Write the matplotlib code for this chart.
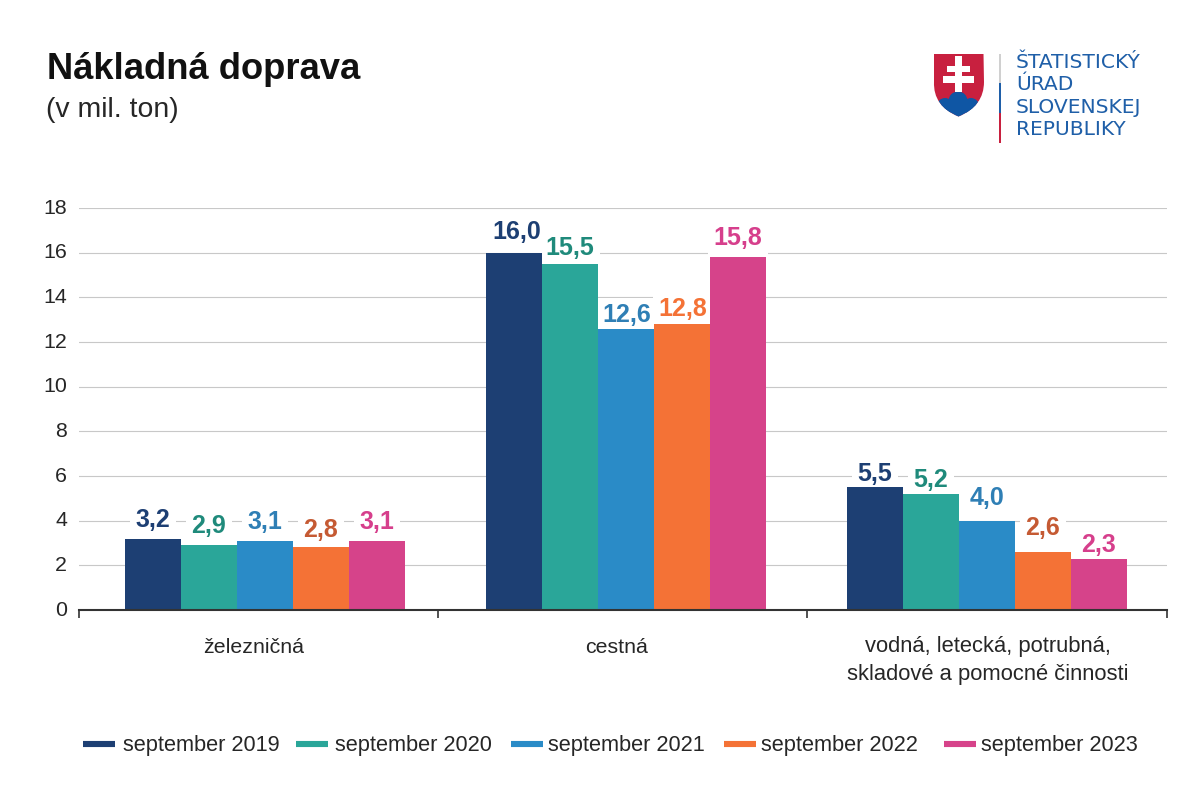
import matplotlib
matplotlib.use("Agg")
import matplotlib.pyplot as plt
import numpy as np
from matplotlib.lines import Line2D
from matplotlib.patches import PathPatch, Circle, Rectangle
from matplotlib.path import Path
from matplotlib.transforms import ScaledTranslation

plt.rcParams['font.family'] = ['Liberation Sans', 'DejaVu Sans']

categories = ['železničná', 'cestná', 'vodná, letecká, potrubná,\nskladové a pomocné činnosti']
series_names = ['september 2019', 'september 2020', 'september 2021', 'september 2022', 'september 2023']
sep_2019 = [3.2, 16.0, 5.5]
sep_2020 = [2.9, 15.5, 5.2]
sep_2021 = [3.1, 12.6, 4.0]
sep_2022 = [2.8, 12.8, 2.6]
sep_2023 = [3.1, 15.8, 2.3]
series_values = [sep_2019, sep_2020, sep_2021, sep_2022, sep_2023]
colors = ['#1d3f73', '#2aa699', '#2a8bc7', '#f47236', '#d6438a']
label_colors = [
    ['#1d3f73', '#1d3f73', '#1d3f73'],
    ['#1f8a7b', '#1f8a7b', '#1f8a7b'],
    ['#2f7fb5', '#2f7fb5', '#2f7fb5'],
    ['#c55a33', '#f47236', '#c55a33'],
    ['#d63f8c', '#d63f8c', '#d63f8c'],
]
y_ticks = list(range(0, 19, 2))
TXT = '#262626'
W, H = 1200, 800

# small hand placement of the value labels, in pixels (up)
label_nudge_y = [[1, 3, -4], [2, -1, -3], [1, -4, 5], [0, -2, 7], [1, 2, -4]]
label_nudge_x = [[0, 3, 0], [0, 0, 0], [0, 1, 0], [0, 1, 0], [0, 0, 0]]

fig = plt.figure(figsize=(12, 8), dpi=100, facecolor='white')
ax = fig.add_axes([79 / W, 1 - 610 / H, (1167 - 79) / W, (610 - 208) / H])

PX = 361.0
bar_w = 56 / PX
x = np.arange(len(categories))
ax.set_xlim((79 - 265) / PX, (1167 - 265) / PX)
ax.set_ylim(0, 18)

for i, (vals, c) in enumerate(zip(series_values, colors)):
    pos = x + (i - 2) * bar_w
    ax.bar(pos, vals, width=bar_w, color=c, edgecolor='none', zorder=2)
    for j, (p, v, lc) in enumerate(zip(pos, vals, label_colors[i])):
        txt = f'{v:.1f}'.replace('.', ',')
        off = (label_nudge_x[i][j] * 0.72, 7.4 + label_nudge_y[i][j] * 0.72)
        # white gap in the gridlines sits under the bars, the digits above them
        ax.annotate(txt, (p, v), xytext=off, textcoords='offset points', ha='center', va='baseline',
                    fontsize=18, fontweight='bold', color='none', zorder=1.5,
                    bbox=dict(facecolor='white', edgecolor='none', pad=4))
        ax.annotate(txt, (p, v), xytext=off, textcoords='offset points', ha='center', va='baseline',
                    fontsize=18, fontweight='bold', color=lc, zorder=3)

for s in ['top', 'left', 'right']:
    ax.spines[s].set_visible(False)
ax.spines['bottom'].set_color('#333333')
ax.spines['bottom'].set_linewidth(1.5)
ax.spines['bottom'].set_zorder(4)

ax.set_yticks(y_ticks)
ax.tick_params(axis='y', length=0, labelsize=15.4, labelcolor=TXT, pad=8.5)
ax.yaxis.grid(True, color='#c8c8c8', linewidth=0.8, zorder=1)
ax.set_axisbelow(True)
for lab in ax.get_yticklabels():
    lab.set_transform(lab.get_transform() + ScaledTranslation(0, 1.5 / 72 * 0.96, fig.dpi_scale_trans))

sep_px = [79, 438, 807, 1167]
ax.set_xticks([(p - 265) / PX for p in sep_px])
ax.set_xticklabels([])
ax.tick_params(axis='x', length=5.5, width=1.2, color='#333333', direction='out')

label_px = [253.5, 617, 987.5]
label_top_px = [638, 638, 636]
for px, top, cat in zip(label_px, label_top_px, categories):
    ax.text((px - 265) / PX, 1 - (top - 208) / (610 - 208), cat, transform=ax.get_xaxis_transform(),
            ha='center', va='top', fontsize=15.8 if '\n' in cat else 15.4, color=TXT, linespacing=1.42)

fig.text(47 / W, 1 - 79 / H, 'Nákladná doprava', fontsize=26.2, fontweight='bold', color='#111111', va='baseline')
fig.text(46 / W, 1 - 117 / H, '(v mil. ton)', fontsize=20.4, color=TXT, va='baseline')

# overlay in pixel coordinates for the legend row and the logo
lg = fig.add_axes([0, 0, 1, 1], facecolor='none')
lg.set_xlim(0, W)
lg.set_ylim(H, 0)
lg.axis('off')

legend_handle_px = [83, 296, 511, 724, 944]
legend_text_px = [123, 335, 548, 761, 981]
for hx, tx, c, name in zip(legend_handle_px, legend_text_px, colors, series_names):
    lg.add_line(Line2D([hx, hx + 32], [744, 744], color=c, lw=4.4, solid_capstyle='butt'))
    lg.text(tx, 745, name, fontsize=15.65, color=TXT, va='center', ha='left')

shield = Path(
    [(934, 54), (983.5, 54), (984, 82), (984, 106), (958.5, 116.5), (933, 106), (934, 82), (934, 54)],
    [Path.MOVETO, Path.LINETO, Path.LINETO, Path.CURVE3, Path.CURVE3, Path.CURVE3, Path.CURVE3, Path.CLOSEPOLY],
)
sp = PathPatch(shield, facecolor='#c8203f', edgecolor='none')
lg.add_patch(sp)
for shape in [Circle((958, 101), 9.5), Circle((945, 106), 8), Circle((971, 106), 8), Rectangle((934, 105), 50, 12)]:
    shape.set(facecolor='#0f56a4', edgecolor='none')
    lg.add_patch(shape)
    shape.set_clip_path(sp)
for xy, w, h in [((954.5, 56), 7, 36), ((947, 66), 23, 6), ((943, 76), 31, 7)]:
    lg.add_patch(Rectangle(xy, w, h, facecolor='white', edgecolor='none'))
for y0, y1, c in [(54, 83, '#d0d0d0'), (83, 113, '#1f5fa8'), (113, 143, '#c8203f')]:
    lg.add_patch(Rectangle((998.5, y0), 2.2, y1 - y0, facecolor=c, edgecolor='none'))
for line, yb in zip(['ŠTATISTICKÝ', 'ÚRAD', 'SLOVENSKEJ', 'REPUBLIKY'], [68, 90.5, 112.7, 135]):
    lg.text(1016, yb, line, fontsize=14.6, color='#1f5fa8', family='DejaVu Sans', va='baseline', ha='left')

fig.savefig('out.png', dpi=100, facecolor='white')
